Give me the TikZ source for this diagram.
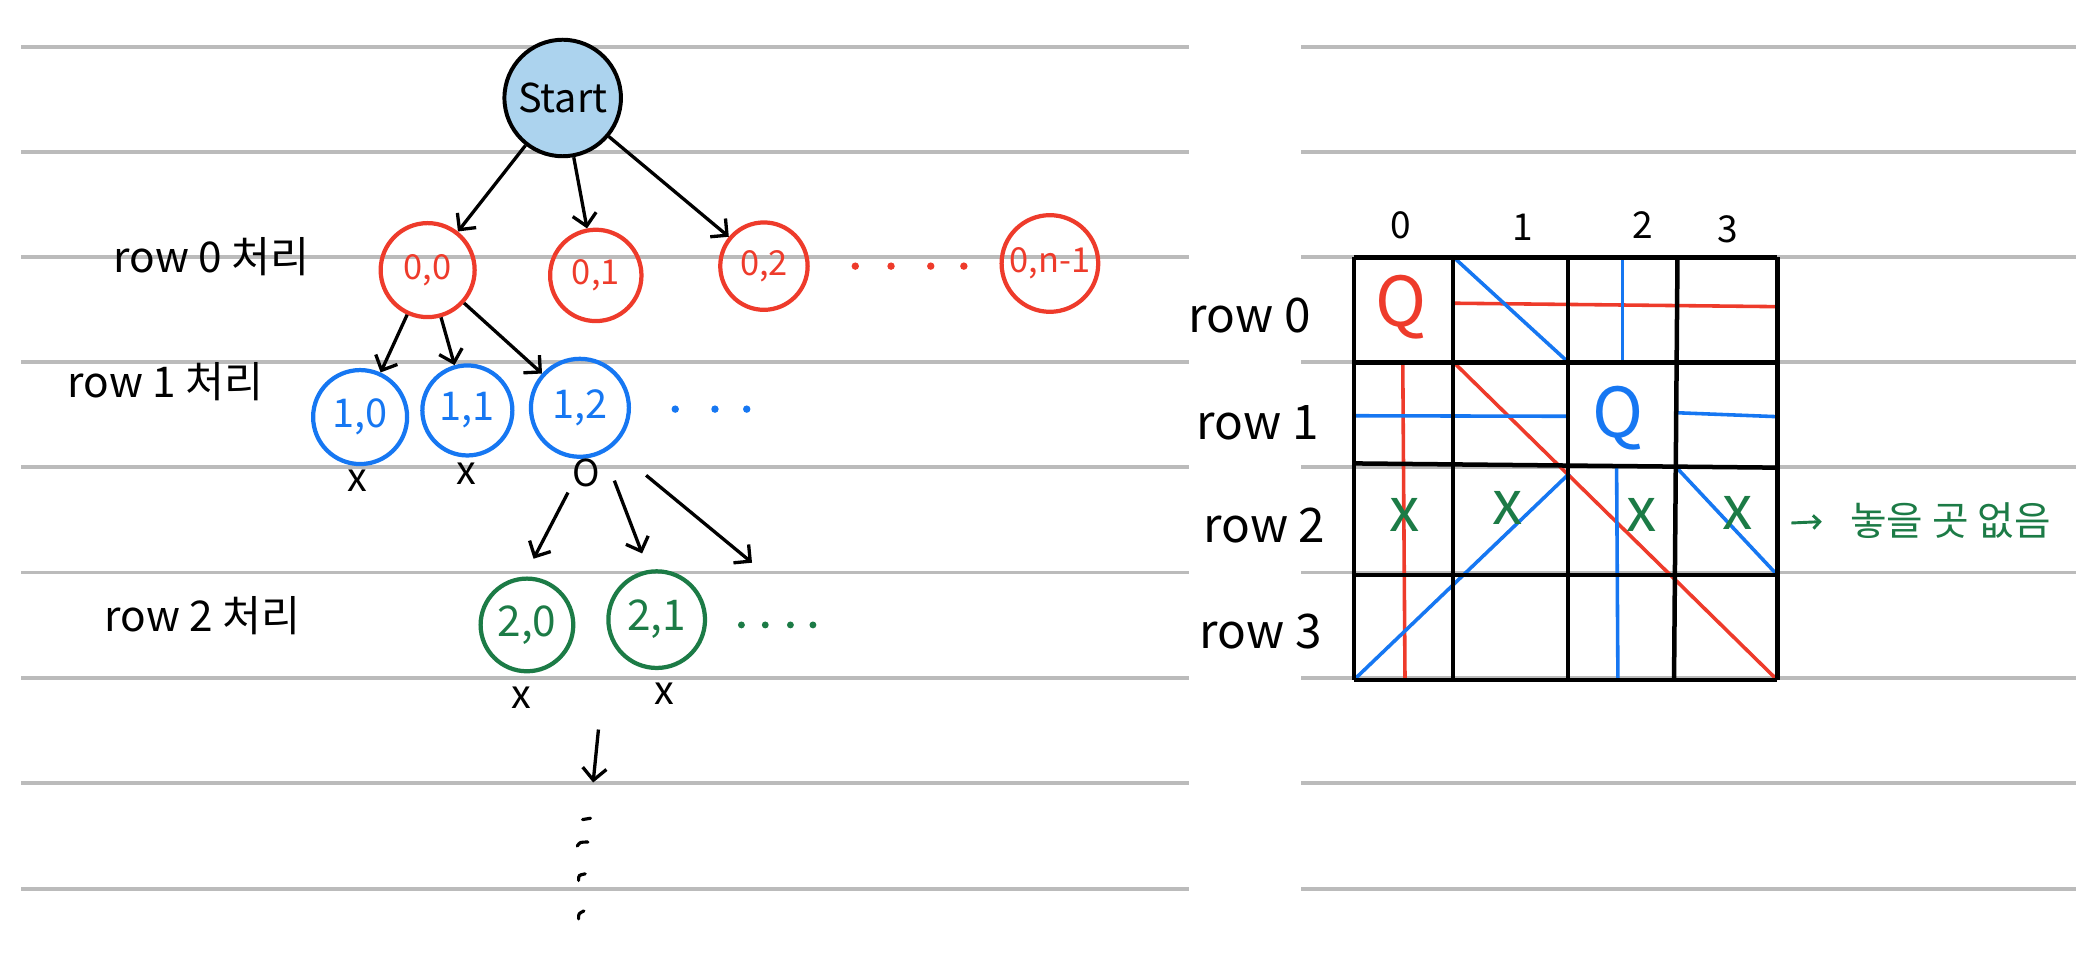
\documentclass[tikz,border=0pt]{standalone}
\usepackage{fontspec}
\setmainfont{Noto Sans CJK KR}
\usetikzlibrary{arrows.meta}
\definecolor{hred}{HTML}{EE3B2B}
\definecolor{hblue}{HTML}{1677F2}
\definecolor{hgreen}{HTML}{1C7B46}
\definecolor{hfill}{HTML}{ACD3EE}
\definecolor{hrule}{HTML}{BBBBBB}
\newcommand{\fs}[1]{\fontsize{#1}{#1}\selectfont}
\begin{document}
\begin{tikzpicture}[x=0.5pt,y=-0.5pt,
  ruleline/.style={hrule,line width=1.5pt},
  harrow/.style={black,line width=1.25pt,-{Straight Barb[length=4.5pt,width=9pt]}},
  startnode/.style={circle,draw=black,fill=hfill,line width=1.5pt,minimum size=44pt,inner sep=0pt,font=\fs{15}},
  rednode/.style={circle,draw=hred,text=hred,line width=1.6pt,inner sep=0pt,font=\fs{13}},
  bluenode/.style={circle,draw=hblue,text=hblue,line width=1.6pt,inner sep=0pt,font=\fs{15}},
  greennode/.style={circle,draw=hgreen,text=hgreen,line width=1.6pt,inner sep=0pt,font=\fs{16}},
  marktxt/.style={inner sep=0pt,font=\fs{15}},
  lbl/.style={inner sep=0pt,font=\fs{16}},
  rlbl/.style={inner sep=0pt,font=\fs{18}},
  clbl/.style={inner sep=0pt,font=\fs{14}},
  gridline/.style={black,line width=1.7pt},
  redline/.style={hred,line width=1.35pt},
  blueline/.style={hblue,line width=1.35pt},
  qtxt/.style={inner sep=0pt,font=\fs{26}},
  gx/.style={inner sep=0pt,text=hgreen,font=\fs{23}},
  dotstroke/.style={black,line width=1.2pt,line cap=round},
]
\useasboundingbox (0,0) rectangle (1568,720);

% ruled paper lines
\foreach \y in {35.2,114.6,194.2,273.7,353,432.4,512,591.4,671.3}{
  \draw[ruleline] (16,\y) -- (898,\y);
  \draw[ruleline] (983,\y) -- (1568,\y);
}

% ---------- tree ----------
\node[startnode] (start) at (425,74) {Start};

\node[rednode,minimum size=35.5pt] (n00) at (323,204) {0,0};
\node[rednode,minimum size=34.5pt] (n01) at (450,208) {0,1};
\node[rednode,minimum size=33pt]   (n02) at (577,201) {0,2};
\node[rednode,minimum size=36.5pt] (n0n) at (793,199) {0,n-1};
\foreach \x in {646,673,703,728}{\fill[hred] (\x,201) circle[radius=1.4pt];}

\node[bluenode,minimum size=35.5pt] (n10) at (272,315) {1,0};
\node[bluenode,minimum size=34pt]   (n11) at (353,310) {1,1};
\node[bluenode,minimum size=37pt]   (n12) at (438,308) {1,2};
\foreach \x in {510,540,564}{\fill[hblue] (\x,309) circle[radius=1.4pt];}

\node[greennode,minimum size=35pt]   (n20) at (398,472) {2,0};
\node[greennode,minimum size=36.5pt] (n21) at (496,468) {2,1};
\foreach \x in {560,578,597,614}{\fill[hgreen] (\x,472) circle[radius=1.3pt];}

\node[lbl] (l0) at (160,194) {row 0 처리};
\node[lbl] (l1) at (125,288) {row 1 처리};
\node[lbl] (l2) at (153,465) {row 2 처리};

\draw[harrow] (start) -- (n00);
\draw[harrow] (start) -- (n01);
\draw[harrow] (start) -- (n02);
\draw[harrow] (n00) -- (n10);
\draw[harrow] (n00) -- (n11);
\draw[harrow] (n00) -- (n12);

\node[marktxt] (x10) at (270,363) {x};
\node[marktxt] (x11) at (352,358) {x};
\node[marktxt,font=\fs{14}] (o12) at (443,357) {O};
\node[marktxt] (x20) at (394,527) {x};
\node[marktxt] (x21) at (502,524) {x};

\coordinate (a1s) at (429,372); \coordinate (a1e) at (403,422);
\coordinate (a2s) at (464,363); \coordinate (a2e) at (485,418);
\coordinate (a3s) at (488,359); \coordinate (a3e) at (568,425);
\draw[harrow] (a1s) -- (a1e);
\draw[harrow] (a2s) -- (a2e);
\draw[harrow] (a3s) -- (a3e);

\coordinate (ds) at (452,551); \coordinate (de) at (448,591);
\draw[harrow] (ds) -- (de);

\draw[dotstroke] (440,619) -- (446,618);
\draw[dotstroke] (436,639) .. controls (438,636) .. (444,636);
\draw[dotstroke] (437,665) .. controls (437,661) .. (442,660);
\draw[dotstroke] (437,694) .. controls (437,690) .. (441,688);

% ---------- board ----------
% attack lines of the red queen
\draw[redline] (1097.5,229) -- (1342.4,231.6);
\draw[redline] (1059.5,273.2) -- (1061.2,513.6);
\draw[redline] (1097.5,273.2) -- (1342.4,513.6);
% attack lines of the blue queen
\draw[blueline] (1022.5,314) -- (1184.4,314.4);
\draw[blueline] (1265.7,311.7) -- (1342.4,314.7);
\draw[blueline] (1225.5,193.4) -- (1225.5,274.4);
\draw[blueline] (1221,351) -- (1222,513.6);
\draw[blueline] (1097.5,193.9) -- (1185.4,274.4);
\draw[blueline] (1185.4,357.5) -- (1022.5,513.6);
\draw[blueline] (1265.7,352.5) -- (1342.4,434.3);

% grid
\draw[gridline] (1022.5,194.4) -- (1022.5,513.6);
\draw[gridline] (1097.5,194.4) -- (1097.5,513.6);
\draw[gridline] (1184.4,194.4) -- (1184.4,513.6);
\draw[gridline] (1267,194.4) -- (1264.4,513.6);
\draw[gridline] (1342.4,194.4) -- (1342.4,513.6);
\draw[gridline] (1022.5,194.4) -- (1342.4,194.4);
\draw[gridline] (1022.5,273.7) -- (1342.4,273.7);
\draw[gridline] (1022.5,350) -- (1342.4,353.2);
\draw[gridline] (1022.5,434.3) -- (1342.4,434.3);
\draw[gridline] (1022.5,513.6) -- (1342.4,513.6);

\node[clbl] (c0) at (1058,170) {0};
\node[clbl] (c1) at (1150,172) {1};
\node[clbl] (c2) at (1241,170) {2};
\node[clbl] (c3) at (1305,173) {3};

\node[rlbl] (r0) at (944,238) {row 0};
\node[rlbl] (r1) at (950,319) {row 1};
\node[rlbl] (r2) at (955,397) {row 2};
\node[rlbl] (r3) at (952,477) {row 3};

\node[qtxt,text=hred]  (q0) at (1058,232) {Q};
\node[qtxt,text=hblue] (q1) at (1222,316) {Q};

\node[gx] (g0) at (1061,389) {x};
\node[gx] (g1) at (1139,384) {x};
\node[gx] (g2) at (1240,389) {x};
\node[gx] (g3) at (1312.5,387.5) {x};

\node[inner sep=0pt,anchor=west,text=hgreen,font=\fs{15}] (nospot) at (1397,393) {놓을 곳 없음};
\coordinate (garr) at (1353,395);
\draw[hgreen,line width=1.1pt,-{Straight Barb[length=2.5pt,width=5pt]},shorten >=10.5pt] (garr) -- (nospot.west);
\end{tikzpicture}
\end{document}
